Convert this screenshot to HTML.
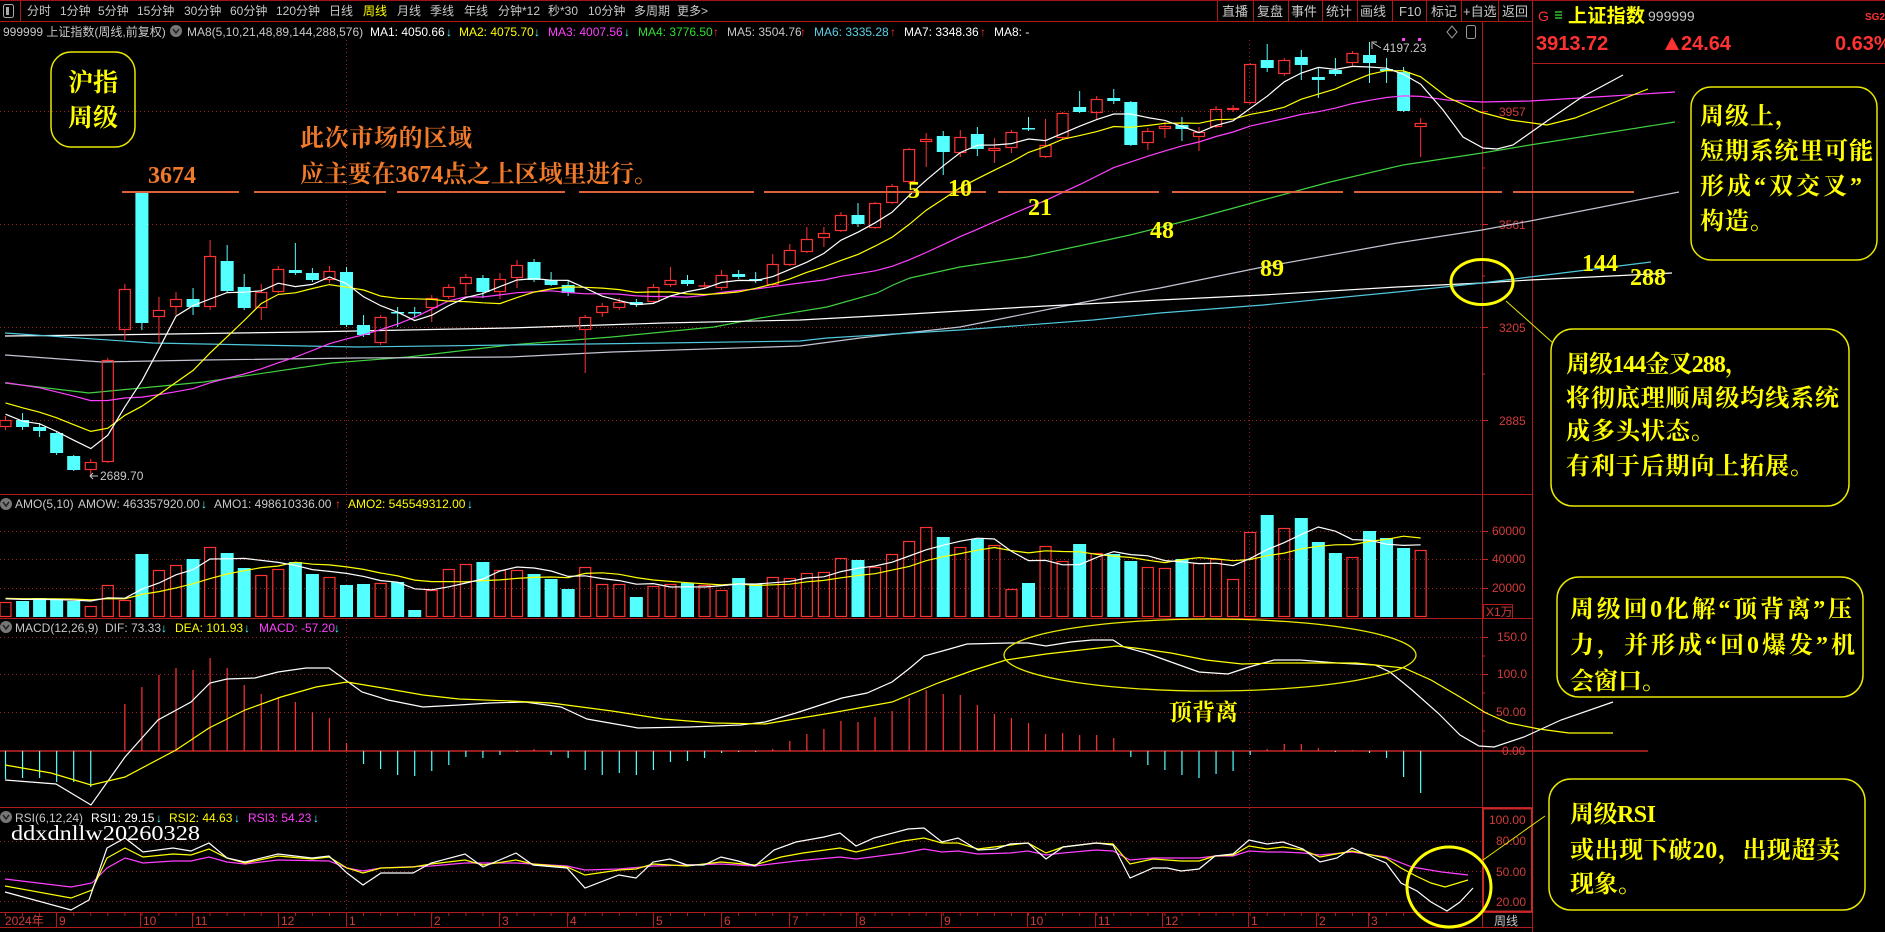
<!DOCTYPE html>
<html><head><meta charset="utf-8">
<style>
html,body{margin:0;padding:0;background:#000;overflow:hidden;width:1885px;height:932px;}
svg{display:block;}
.t{font-family:"Liberation Sans","Noto Sans CJK SC","DejaVu Sans",sans-serif;font-size:12px;}
.cn{font-family:"Liberation Serif","Noto Serif CJK SC",serif;font-weight:bold;}
.ax{font-family:"Liberation Sans",sans-serif;font-size:12px;fill:#d23c3c;}
</style></head><body>
<svg id="c" width="1885" height="932" viewBox="0 0 1885 932" xmlns="http://www.w3.org/2000/svg">
<rect width="1885" height="932" fill="#000"/>

<!-- toolbar -->
<line x1="0" y1="0.5" x2="1885" y2="0.5" stroke="#a01414"/>
<line x1="0" y1="21.5" x2="1532" y2="21.5" stroke="#b01818"/>
<rect x="3.5" y="4.5" width="10" height="13" rx="2" fill="none" stroke="#aaa"/>
<rect x="6" y="7" width="3" height="8" fill="#aaa"/>
<line x1="20.5" y1="0" x2="20.5" y2="21" stroke="#b01818"/>
<g class="t" fill="#c8c8c8">
<text x="27" y="15">分时</text><text x="60" y="15">1分钟</text><text x="98" y="15">5分钟</text>
<text x="137" y="15">15分钟</text><text x="184" y="15">30分钟</text><text x="230" y="15">60分钟</text>
<text x="276" y="15">120分钟</text><text x="329" y="15">日线</text><text x="363" y="15" fill="#ffff00">周线</text>
<text x="397" y="15">月线</text><text x="430" y="15">季线</text><text x="464" y="15">年线</text>
<text x="498" y="15">分钟*12</text><text x="548" y="15">秒*30</text><text x="588" y="15">10分钟</text>
<text x="634" y="15">多周期</text><text x="677" y="15">更多&gt;</text>
</g>
<g stroke="#b01818">
<line x1="1217.5" y1="0" x2="1217.5" y2="21"/><line x1="1253.5" y1="0" x2="1253.5" y2="21"/>
<line x1="1288.5" y1="0" x2="1288.5" y2="21"/><line x1="1322.5" y1="0" x2="1322.5" y2="21"/>
<line x1="1357.5" y1="0" x2="1357.5" y2="21"/><line x1="1392.5" y1="0" x2="1392.5" y2="21"/>
<line x1="1426.5" y1="0" x2="1426.5" y2="21"/><line x1="1461.5" y1="0" x2="1461.5" y2="21"/>
<line x1="1498.5" y1="0" x2="1498.5" y2="21"/>
</g>
<g class="t" fill="#c8c8c8" style="font-size:13px">
<text x="1222" y="16">直播</text><text x="1257" y="16">复盘</text><text x="1291" y="16">事件</text>
<text x="1326" y="16">统计</text><text x="1360" y="16">画线</text><text x="1399" y="16">F10</text>
<text x="1431" y="16">标记</text><text x="1463" y="16">+自选</text><text x="1502" y="16">返回</text>
</g>

<!-- info row -->
<g class="t">
<text x="3" y="36" fill="#c8c8c8">999999 上证指数(周线,前复权)</text>
<circle cx="176" cy="31" r="6" fill="#777"/>
<path d="M173,29 L176,33 L179,29" stroke="#222" stroke-width="1.5" fill="none"/>
<text x="187" y="36" fill="#c8c8c8">MA8(5,10,21,48,89,144,288,576)</text>
<text x="370" y="36" fill="#ffffff">MA1: 4050.66</text><text x="446" y="36" fill="#54ffff">↓</text>
<text x="459" y="36" fill="#ffff00">MA2: 4075.70</text><text x="534" y="36" fill="#54ffff">↓</text>
<text x="548" y="36" fill="#ff40ff">MA3: 4007.56</text><text x="624" y="36" fill="#54ffff">↓</text>
<text x="638" y="36" fill="#30e030">MA4: 3776.50</text><text x="713" y="36" fill="#ff3232">↑</text>
<text x="727" y="36" fill="#c8c8c8">MA5: 3504.76</text><text x="800" y="36" fill="#ff3232">↑</text>
<text x="814" y="36" fill="#5cd0e8">MA6: 3335.28</text><text x="890" y="36" fill="#ff3232">↑</text>
<text x="904" y="36" fill="#ffffff">MA7: 3348.36</text><text x="980" y="36" fill="#ff3232">↑</text>
<text x="994" y="36" fill="#ffffff">MA8: -</text>
</g>
<path d="M1452,26 L1457,32 L1452,38 L1447,32 Z" fill="none" stroke="#999"/>
<rect x="1466.5" y="25.5" width="9" height="13" rx="2" fill="none" stroke="#999"/>

<!-- panel borders -->
<g stroke="#b01c1c">
<line x1="0" y1="494.5" x2="1532" y2="494.5"/>
<line x1="0" y1="618.5" x2="1532" y2="618.5"/>
<line x1="0" y1="807.5" x2="1532" y2="807.5"/>
<line x1="0" y1="912.5" x2="1532" y2="912.5"/>
<line x1="0" y1="927.5" x2="1532" y2="927.5"/>
<line x1="1482.5" y1="22" x2="1482.5" y2="928"/>
<line x1="1532.5" y1="0" x2="1532.5" y2="932"/>
<line x1="1532" y1="63.5" x2="1885" y2="63.5"/>
</g>
<rect x="1483" y="808.5" width="49" height="103" fill="none" stroke="#c82828" stroke-width="2"/>

<!-- grid dotted -->
<g stroke="#a02020" stroke-dasharray="1,3">
<line x1="0" y1="111.5" x2="1482" y2="111.5"/><line x1="0" y1="224.5" x2="1482" y2="224.5"/>
<line x1="0" y1="327.5" x2="1482" y2="327.5"/><line x1="0" y1="420.5" x2="1482" y2="420.5"/>
<line x1="0" y1="531.5" x2="1482" y2="531.5"/><line x1="0" y1="559.5" x2="1482" y2="559.5"/>
<line x1="0" y1="588.5" x2="1482" y2="588.5"/>
<line x1="0" y1="637.5" x2="1482" y2="637.5"/><line x1="0" y1="674.5" x2="1482" y2="674.5"/>
<line x1="0" y1="712.5" x2="1482" y2="712.5"/>
<line x1="0" y1="841.5" x2="1482" y2="841.5"/><line x1="0" y1="871.5" x2="1482" y2="871.5"/>
<line x1="0" y1="901.5" x2="1482" y2="901.5"/>
<line x1="346.5" y1="40" x2="346.5" y2="912"/><line x1="1249.5" y1="40" x2="1249.5" y2="912"/>
</g>
<line x1="0" y1="751" x2="1648" y2="751" stroke="#c82828" stroke-width="1.5"/>

<!-- axis labels -->
<g class="ax">
<text x="1499" y="116">3957</text><text x="1499" y="229">3561</text>
<text x="1499" y="332">3205</text><text x="1499" y="425">2885</text>
<text x="1492" y="535">60000</text><text x="1492" y="563">40000</text><text x="1492" y="592">20000</text>
<text x="1486" y="616">X1万</text>
<text x="1497" y="641">150.0</text><text x="1497" y="678">100.0</text>
<text x="1496" y="716">50.00</text><text x="1502" y="755">0.00</text>
<text x="1489" y="824">100.00</text><text x="1496" y="845">80.00</text>
<text x="1496" y="876">50.00</text><text x="1496" y="906">20.00</text>
</g>
<rect x="1483.5" y="604.5" width="29" height="14" fill="none" stroke="#b01c1c"/>
<g stroke="#c82828">
<line x1="1482" y1="111.5" x2="1488" y2="111.5"/><line x1="1482" y1="224.5" x2="1488" y2="224.5"/>
<line x1="1482" y1="327.5" x2="1488" y2="327.5"/><line x1="1482" y1="420.5" x2="1488" y2="420.5"/>
<line x1="1482" y1="168" x2="1485" y2="168"/><line x1="1482" y1="276" x2="1485" y2="276"/><line x1="1482" y1="374" x2="1485" y2="374"/>
<line x1="1482" y1="531.5" x2="1488" y2="531.5"/><line x1="1482" y1="559.5" x2="1488" y2="559.5"/><line x1="1482" y1="588.5" x2="1488" y2="588.5"/>
<line x1="1482" y1="637.5" x2="1488" y2="637.5"/><line x1="1482" y1="674.5" x2="1488" y2="674.5"/><line x1="1482" y1="712.5" x2="1488" y2="712.5"/>
<line x1="1482" y1="656" x2="1485" y2="656"/><line x1="1482" y1="693" x2="1485" y2="693"/><line x1="1482" y1="731" x2="1485" y2="731"/>
</g>

<!-- time axis -->
<g class="ax">
<text x="5" y="925">2024年</text><text x="59" y="925">9</text><text x="143" y="925">10</text>
<text x="195" y="925">11</text><text x="281" y="925">12</text><text x="349" y="925">1</text>
<text x="434" y="925">2</text><text x="502" y="925">3</text><text x="570" y="925">4</text>
<text x="656" y="925">5</text><text x="724" y="925">6</text><text x="792" y="925">7</text>
<text x="859" y="925">8</text><text x="944" y="925">9</text><text x="1030" y="925">10</text>
<text x="1098" y="925">11</text><text x="1165" y="925">12</text><text x="1251" y="925">1</text>
<text x="1319" y="925">2</text><text x="1371" y="925">3</text>
</g>
<g stroke="#b01c1c">
<line x1="56.5" y1="913" x2="56.5" y2="927"/><line x1="140.5" y1="913" x2="140.5" y2="927"/>
<line x1="192.5" y1="913" x2="192.5" y2="927"/><line x1="278.5" y1="913" x2="278.5" y2="927"/>
<line x1="346.5" y1="913" x2="346.5" y2="927"/><line x1="431.5" y1="913" x2="431.5" y2="927"/>
<line x1="499.5" y1="913" x2="499.5" y2="927"/><line x1="567.5" y1="913" x2="567.5" y2="927"/>
<line x1="653.5" y1="913" x2="653.5" y2="927"/><line x1="721.5" y1="913" x2="721.5" y2="927"/>
<line x1="789.5" y1="913" x2="789.5" y2="927"/><line x1="856.5" y1="913" x2="856.5" y2="927"/>
<line x1="941.5" y1="913" x2="941.5" y2="927"/><line x1="1027.5" y1="913" x2="1027.5" y2="927"/>
<line x1="1095.5" y1="913" x2="1095.5" y2="927"/><line x1="1162.5" y1="913" x2="1162.5" y2="927"/>
<line x1="1248.5" y1="913" x2="1248.5" y2="927"/><line x1="1316.5" y1="913" x2="1316.5" y2="927"/>
<line x1="1368.5" y1="913" x2="1368.5" y2="927"/>
</g>
<text x="1494" y="925" class="t" fill="#c8c8c8">周线</text>

<!-- panel headers -->
<g class="t">
<circle cx="6" cy="504" r="6" fill="#777"/><path d="M3,502 L6,506 L9,502" stroke="#222" stroke-width="1.5" fill="none"/>
<text x="15" y="508" fill="#c8c8c8">AMO(5,10)</text>
<text x="78" y="508" fill="#c8c8c8">AMOW: 463357920.00</text><text x="201" y="508" fill="#54ffff">↓</text>
<text x="214" y="508" fill="#c8c8c8">AMO1: 498610336.00</text><text x="335" y="508" fill="#ff3232">↑</text>
<text x="348" y="508" fill="#ffff00">AMO2: 545549312.00</text><text x="467" y="508" fill="#54ffff">↓</text>
<circle cx="6" cy="627" r="6" fill="#777"/><path d="M3,625 L6,629 L9,625" stroke="#222" stroke-width="1.5" fill="none"/>
<text x="15" y="632" fill="#c8c8c8">MACD(12,26,9)</text>
<text x="105" y="632" fill="#c8c8c8">DIF: 73.33</text><text x="161" y="632" fill="#54ffff">↓</text>
<text x="175" y="632" fill="#ffff00">DEA: 101.93</text><text x="244" y="632" fill="#54ffff">↓</text>
<text x="259" y="632" fill="#ff40ff">MACD: -57.20</text><text x="334" y="632" fill="#54ffff">↓</text>
<circle cx="6" cy="817" r="6" fill="#777"/><path d="M3,815 L6,819 L9,815" stroke="#222" stroke-width="1.5" fill="none"/>
<text x="15" y="822" fill="#c8c8c8">RSI(6,12,24)</text>
<text x="91" y="822" fill="#ffffff">RSI1: 29.15</text><text x="156" y="822" fill="#54ffff">↓</text>
<text x="169" y="822" fill="#ffff00">RSI2: 44.63</text><text x="234" y="822" fill="#54ffff">↓</text>
<text x="248" y="822" fill="#ff40ff">RSI3: 54.23</text><text x="313" y="822" fill="#54ffff">↓</text>
</g>
<text x="11" y="840" font-family="Liberation Serif,serif" font-size="21" fill="#ffffff" textLength="189" lengthAdjust="spacingAndGlyphs">ddxdnllw20260328</text>

<!-- long MA lines (hand) -->
<g fill="none" stroke-width="1.2">
<polyline stroke="#40d040" points="5,383 89,393 204,382 332,363 408,357 510,345 612,337 714,327 760,318 827,307 877,293 893,285 910,278 960,267 1027,257 1093,243 1130,235 1197,218 1263,200 1330,182 1403,165 1482,153 1530,145 1675,122"/>
<polyline stroke="#c4c4d4" points="5,355 102,362 204,360 357,358 510,357 612,352 800,346 860,338 960,327 1060,307 1130,293 1160,288 1263,267 1397,243 1482,230 1530,221 1679,192"/>
<polyline stroke="#ffffff" points="5,336 102,335 306,332 510,328 663,323 800,320 893,315 1027,307 1160,300 1263,295 1397,287 1482,283 1530,280 1672,273"/>
<polyline stroke="#50c8dc" points="5,333 153,343 357,347 510,345 663,343 800,341 827,338 960,330 1093,320 1160,313 1263,305 1397,292 1482,283 1530,277 1651,262"/>
</g>

<g id="dyn"></g>

<!-- MACD lines -->
<g fill="none" stroke-width="1.2">
<polyline stroke="#ffffff" points="5,780 56,784 91,805 125,757 158,720 191,702 210,683 227,679 255,678 278,672 306,668 329,668 362,692 388,700 423,707 459,705 490,703 525,702 561,707 587,719 638,728 689,727 740,725 765,722 796,713 842,698 867,693 892,682 910,668 924,656 946,650 967,644 1010,643 1028,643 1046,646 1071,642 1092,640 1113,640 1124,647 1146,653 1171,662 1199,672 1228,674 1249,667 1274,660 1300,660 1337,663 1375,665 1390,672 1412,690 1438,713 1460,735 1479,746 1494,747 1524,737 1561,720 1613,702"/>
<polyline stroke="#ffff00" points="5,765 51,773 91,785 125,777 176,750 209,728 245,710 281,697 316,687 347,682 383,688 423,695 459,699 510,701 551,703 612,711 663,719 714,723 765,724 831,713 892,702 938,683 974,670 1006,660 1046,654 1081,650 1117,646 1135,648 1171,653 1206,660 1242,664 1278,663 1300,663 1356,663 1404,668 1431,680 1460,697 1486,713 1509,723 1539,729 1569,733 1613,733"/>
</g>
<!-- RSI lines -->
<g fill="none" stroke-width="1.2">
<polyline stroke="#ff40ff" points="5,879 71,887 92,883 107,868 125,858 143,863 173,861 191,861 209,857 227,862 245,864 278,860 329,861 347,868 363,871 381,868 431,866 465,863 516,863 567,866 585,870 619,869 653,866 721,864 755,866 796,861 840,857 856,859 903,853 924,849 942,852 958,851 978,854 1010,853 1028,851 1046,855 1063,853 1096,850 1113,851 1130,860 1153,858 1199,858 1215,856 1233,856 1249,851 1267,852 1283,852 1303,853 1320,855 1352,852 1386,857 1412,867 1442,872 1468,875"/>
<polyline stroke="#ffff00" points="5,886 71,898 92,890 107,858 125,848 143,857 173,854 191,855 209,849 227,858 245,863 278,856 312,859 329,857 347,868 363,873 381,868 413,867 431,864 465,860 483,865 516,860 533,864 567,867 585,875 619,870 636,869 653,864 670,865 687,866 721,862 755,865 781,857 803,853 840,848 856,852 903,841 924,838 942,843 958,843 978,849 1010,845 1028,843 1046,853 1063,847 1096,843 1113,844 1130,864 1153,859 1181,861 1199,861 1215,856 1233,855 1249,846 1267,849 1283,847 1303,850 1320,857 1352,851 1386,858 1401,868 1416,876 1431,883 1445,887 1468,880"/>
<polyline stroke="#ffffff" points="5,892 71,910 89,900 107,848 125,838 143,852 173,848 191,851 209,843 227,858 245,862 278,854 312,858 329,856 347,873 363,885 381,873 413,873 431,863 465,854 483,867 516,853 533,865 567,868 585,888 619,875 636,878 653,862 670,859 687,865 704,865 721,857 738,861 755,866 774,850 796,842 824,837 840,833 856,846 874,838 908,829 924,828 942,842 958,838 978,850 996,849 1010,844 1028,843 1046,859 1063,847 1096,843 1113,845 1130,878 1153,868 1167,868 1181,871 1199,869 1215,856 1233,854 1249,840 1267,844 1283,842 1303,849 1320,862 1337,858 1352,848 1367,855 1386,863 1401,883 1417,891 1431,902 1447,911 1460,902 1473,888"/>
</g>

<!-- 3674 dashed line -->
<g stroke="#e0603c" stroke-width="2">
<line x1="122" y1="192" x2="239" y2="192"/><line x1="254" y1="192" x2="386" y2="192"/>
<line x1="397" y1="192" x2="565" y2="192"/><line x1="579" y1="192" x2="754" y2="192"/>
<line x1="764" y1="192" x2="986" y2="192"/><line x1="998" y1="192" x2="1159" y2="192"/>
<line x1="1172" y1="192" x2="1343" y2="192"/><line x1="1354" y1="192" x2="1502" y2="192"/>
<line x1="1513" y1="192" x2="1634" y2="192"/>
</g>

<!-- annotations -->
<text x="148" y="183" class="cn" font-size="24" fill="#f07a2a" textLength="48">3674</text>
<text x="300" y="146" class="cn" font-size="24" fill="#f07a2a" textLength="172">此次市场的区域</text>
<text x="300" y="182" class="cn" font-size="24" fill="#f07a2a" textLength="358">应主要在3674点之上区域里进行。</text>

<rect x="51" y="52" width="84" height="95" rx="20" fill="none" stroke="#e8e800" stroke-width="1.5"/>
<text x="93" y="91" class="cn" font-size="25" fill="#ffff00" text-anchor="middle">沪指</text>
<text x="93" y="126" class="cn" font-size="25" fill="#ffff00" text-anchor="middle">周级</text>

<g class="cn" font-size="24" fill="#ffff00">
<text x="908" y="198">5</text><text x="948" y="196">10</text><text x="1028" y="215">21</text>
<text x="1150" y="238">48</text><text x="1260" y="276">89</text>
<text x="1582" y="271">144</text><text x="1630" y="285">288</text>
</g>

<!-- price marks -->
<g class="t" fill="#c8c8c8">
<text x="100" y="480">2689.70</text>
<text x="1383" y="52">4197.23</text>
</g>
<path d="M98,476 L90,476 M93,473 L90,476 L93,479" stroke="#c8c8c8" fill="none"/>
<path d="M1372,49 L1372,42 L1377,42 M1373,43 L1381,48" stroke="#c8c8c8" fill="none"/>
<rect x="1402" y="38" width="3" height="3" fill="#ff40ff"/><rect x="1418" y="38" width="3" height="3" fill="#ff40ff"/>

<!-- circles & leaders -->
<ellipse cx="1482" cy="282" rx="31" ry="22.5" fill="none" stroke="#ffff00" stroke-width="3"/>
<line x1="1506" y1="301" x2="1553" y2="343" stroke="#e8e800" stroke-width="1"/>
<ellipse cx="1210" cy="655" rx="206" ry="36" fill="none" stroke="#e8e800" stroke-width="1.3"/>
<text x="1169" y="720" class="cn" font-size="23" fill="#ffff00" textLength="69">顶背离</text>
<ellipse cx="1449" cy="887" rx="42" ry="40" fill="none" stroke="#ffff00" stroke-width="3"/>
<line x1="1483" y1="860" x2="1545" y2="816" stroke="#e8e800" stroke-width="1"/>

<!-- right panel header -->
<text x="1538" y="21" class="t" font-size="14" fill="#ff3232" style="font-size:14px">G</text>
<g stroke="#30c030" stroke-width="1.5"><line x1="1555" y1="12" x2="1562" y2="12"/><line x1="1555" y1="15" x2="1562" y2="15"/><line x1="1555" y1="18" x2="1562" y2="18"/></g>
<text x="1568" y="22" font-family="Noto Sans CJK SC,sans-serif" font-size="19" font-weight="bold" fill="#ffff00" textLength="77">上证指数</text>
<text x="1648" y="21" font-family="Liberation Sans,sans-serif" font-size="14" fill="#c8c8c8">999999</text>
<text x="1865" y="20" font-family="Liberation Sans,sans-serif" font-size="10" font-weight="bold" fill="#ff3232">SG2</text>
<g font-family="Liberation Sans,sans-serif" font-size="20" font-weight="bold" fill="#ff3232">
<text x="1536" y="50">3913.72</text>
<text x="1681" y="50">24.64</text>
<text x="1835" y="50">0.63%</text>
</g>
<polygon points="1665,50 1679,50 1672,37" fill="#ff3232"/>

<!-- projection boxes -->
<g fill="none" stroke="#e8e800" stroke-width="1.5">
<rect x="1691" y="87" width="186" height="173" rx="20"/>
<rect x="1551" y="329" width="298" height="177" rx="22"/>
<rect x="1557" y="577" width="306" height="120" rx="22"/>
<rect x="1549" y="779" width="316" height="131" rx="22"/>
</g>
<g class="cn" font-size="24" fill="#ffff00">
<text x="1700" y="124" textLength="99">周级上，</text>
<text x="1700" y="159" textLength="173">短期系统里可能</text>
<text x="1700" y="194" textLength="162">形成“双交叉”</text>
<text x="1700" y="229" textLength="74">构造。</text>
<text x="1566" y="372" textLength="183">周级144金叉288，</text>
<text x="1566" y="406" textLength="273">将彻底理顺周级均线系统</text>
<text x="1566" y="439" textLength="149">成多头状态。</text>
<text x="1566" y="474" textLength="248">有利于后期向上拓展。</text>
<text x="1570" y="617" textLength="282">周级回0化解“顶背离”压</text>
<text x="1570" y="653" textLength="285">力，并形成“回0爆发”机</text>
<text x="1570" y="689" textLength="96">会窗口。</text>
<text x="1570" y="822" textLength="86">周级RSI</text>
<text x="1570" y="858" textLength="270">或出现下破20，出现超卖</text>
<text x="1570" y="892" textLength="72">现象。</text>
</g>
</svg>
<script>
(function(){
var NS="http://www.w3.org/2000/svg";
var g=document.getElementById('dyn');
function el(t,a){var e=document.createElementNS(NS,t);for(var k in a)e.setAttribute(k,a[k]);g.appendChild(e);return e;}
function X(i){return 5.5+17.05*i;}
var R='#ff3232',CY='#54ffff';
var C=[
[0,420,427,416,430],[1,420,427,413,430],[1,427,431,423,437],[1,433,453,431,455],[1,456,470,455,471],
[0,462,470,459,476],[0,360,462,358,463],[0,289,330,284,340],[1,192,323,192,330],[0,310,317,297,343],
[0,299,307,292,315],[1,299,307,288,315],[0,256,307,240,310],[1,261,291,245,293],[1,287,308,274,310],
[0,292,308,284,320],[0,269,292,266,293],[1,270,273,243,275],[1,273,280,268,282],[0,271,280,266,283],
[1,272,325,267,327],[1,325,335,315,337],[0,317,343,315,345],[1,312,313,307,327],[1,312,313,307,317],
[0,298,308,295,322],[0,287,297,284,299],[0,277,284,274,295],[1,278,292,275,298],[0,279,292,273,299],
[0,265,278,260,288],[1,262,280,259,282],[1,280,285,272,286],[1,285,293,281,296],[0,317,330,315,373],
[0,306,313,303,317],[0,302,308,298,310],[1,302,305,299,307],[0,287,302,284,303],[0,280,285,267,287],
[1,280,284,275,286],[0,286,287,282,289],[0,275,288,270,290],[1,274,277,270,279],[1,279,281,272,283],
[0,264,285,254,286],[0,250,265,244,266],[0,239,252,227,253],[0,233,238,227,247],[0,215,231,212,232],
[1,215,224,203,227],[0,203,228,202,229],[0,186,203,184,204],[0,149,182,148,184],[0,139,142,133,167],
[1,136,152,131,175],[0,137,153,130,157],[1,134,149,127,156],[0,148,151,138,163],[0,132,148,130,153],
[1,128,129,117,131],[0,145,157,119,158],[0,113,138,112,139],[1,107,112,91,113],[0,99,113,96,119],
[1,98,101,89,104],[1,102,145,101,146],[0,131,143,128,150],[0,126,129,122,138],[1,125,129,117,141],
[0,132,137,127,151],[0,109,127,106,128],[0,108,110,105,112],[0,64,103,63,104],[1,60,68,44,72],
[0,60,74,58,76],[1,57,65,50,80],[1,77,80,68,98],[1,70,74,58,76],[0,53,63,51,67],
[1,55,63,42,83],[1,69,71,58,83],[1,72,111,67,112],[0,123,127,118,157]];
var A=[602,601,598,599,601,606,585,600,554,570,565,559,547,553,568,575,569,562,574,577,
585,584,583,582,610,590,569,564,562,570,570,574,579,589,567,584,584,597,586,584,
583,585,590,578,584,577,578,573,572,558,560,567,554,541,527,537,547,539,545,589,
583,546,561,544,553,554,561,567,568,559,563,559,579,532,515,528,518,542,553,557,
531,538,548,550];
var M=[779,778,778,782,782,787,751,704,687,675,668,670,658,668,685,694,697,702,712,718,
743,764,769,775,776,771,765,757,758,755,752,749,755,758,770,775,773,775,770,762,
761,758,753,752,752,749,741,734,729,721,722,717,711,698,690,694,695,705,714,718,
723,734,733,735,735,738,757,765,770,775,778,774,771,755,749,744,744,748,752,750,
753,758,777,793];
var i,k;
// candles
for(i=0;i<C.length;i++){
 var c=C[i],x=X(i),col=c[0]?CY:R,bt=c[1],bb=c[2],wt=c[3],wb=c[4];
 if(c[0]){
  el('line',{x1:x,y1:wt,x2:x,y2:wb,stroke:col,'stroke-width':1});
  el('rect',{x:x-6.5,y:bt,width:13,height:Math.max(bb-bt,1.5),fill:col});
 }else{
  if(wt<bt)el('line',{x1:x,y1:wt,x2:x,y2:bt,stroke:col,'stroke-width':1});
  if(wb>bb)el('line',{x1:x,y1:bb,x2:x,y2:wb,stroke:col,'stroke-width':1});
  if(bb-bt<2)el('line',{x1:x-6,y1:bt,x2:x+6,y2:bt,stroke:col,'stroke-width':1.5});
  else el('rect',{x:x-5.5,y:bt+0.5,width:11,height:bb-bt-1,fill:'none',stroke:col,'stroke-width':1.2});
 }
}
// AMO bars
for(i=0;i<A.length;i++){
 var x2=X(i),t=A[i],col2=C[i][0]?CY:R;
 if(C[i][0])el('rect',{x:x2-6.5,y:t,width:13,height:617-t,fill:col2});
 else el('rect',{x:x2-5.5,y:t+0.5,width:11,height:617-t-1,fill:'none',stroke:col2,'stroke-width':1.2});
}
// MACD hist
for(i=0;i<M.length;i++){
 var xm=X(i);
 if(Math.abs(M[i]-751)<1)continue;
 el('line',{x1:xm,y1:751,x2:xm,y2:M[i],stroke:M[i]<751?R:CY,'stroke-width':1.2});
}
function pl(pts,col,w){el('polyline',{points:pts.map(function(p){return p[0].toFixed(1)+','+p[1].toFixed(1);}).join(' '),fill:'none',stroke:col,'stroke-width':w||1.2});}
// MAs of price
var pre=[3054,3048,3041,3069,3019,3065,3088,3154,3154,3089,3087,3051,3032,2998,2967,2950,2971,2982,2891,2905,2862].map(function(p){return 111+(3957-p)*0.2882;});
var closes=pre.concat(C.map(function(c){return c[0]?c[2]:c[1];}));
var P=pre.length;
function ma(arr,off,n,len){var pts=[];for(var j=0;j<len;j++){var s=0;for(var q=0;q<n;q++)s+=arr[off+j-q];pts.push([X(j),s/n]);}return pts;}
var m21=ma(closes,P,21,C.length).concat([[1447,100],[1482,102],[1530,101],[1596,97],[1675,92]]);
var m10=ma(closes,P,10,C.length).concat([[1447,97],[1480,112],[1510,120],[1547,125],[1575,118],[1610,104],[1648,89]]);
var m5=ma(closes,P,5,C.length).concat([[1443,110],[1463,137],[1483,148],[1497,149],[1513,145],[1530,133],[1547,121],[1582,97],[1623,75]]);
pl(m21,'#ff40ff');pl(m10,'#ffff00');pl(m5,'#ffffff');
// AMO MAs
var preA=[598,598,598,598,598,598,598,598,598,598];
var AA=preA.concat(A);
pl(ma(AA,10,10,A.length),'#ffff00');
pl(ma(AA,10,5,A.length),'#ffffff');
// weekly small ticks on time axis
for(i=0;i<84;i++){el('line',{x1:X(i),y1:913,x2:X(i),y2:916,stroke:'#b01c1c','stroke-width':1});}
})();
</script>
</body></html>
